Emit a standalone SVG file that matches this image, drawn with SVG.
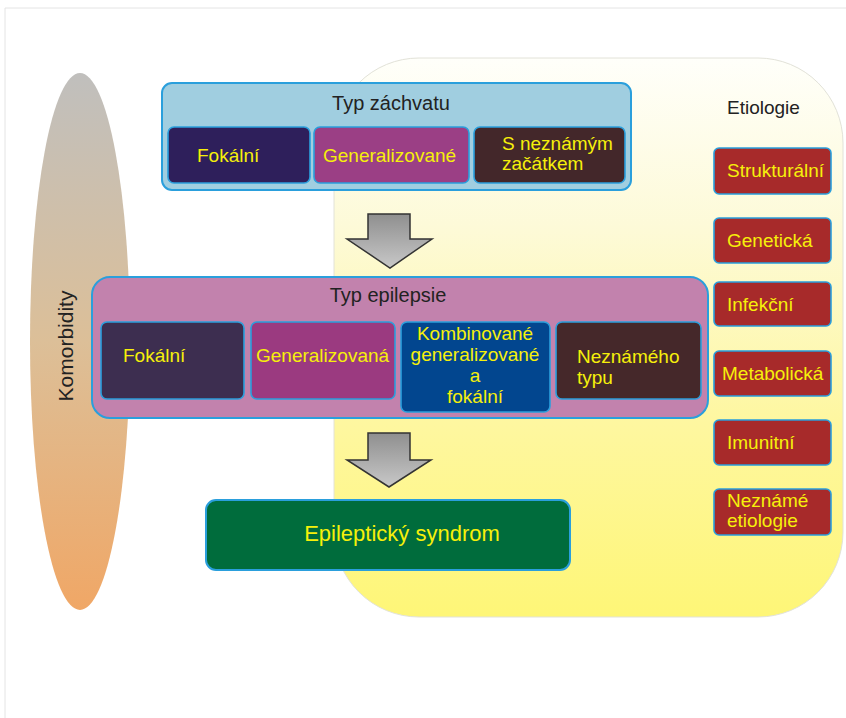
<svg xmlns="http://www.w3.org/2000/svg" width="846" height="718" viewBox="0 0 846 718">
<defs>
<linearGradient id="gYellow" x1="0" y1="0" x2="0" y2="1">
<stop offset="0" stop-color="#fffffa"/>
<stop offset="0.3" stop-color="#fdfad8"/>
<stop offset="0.65" stop-color="#fef7a0"/>
<stop offset="1" stop-color="#fef677"/>
</linearGradient>
<linearGradient id="gEll" x1="0" y1="0" x2="0" y2="1">
<stop offset="0" stop-color="#c0bfbd"/>
<stop offset="0.5" stop-color="#dcbf98"/>
<stop offset="1" stop-color="#f0a766"/>
</linearGradient>
<linearGradient id="gArrow" x1="0" y1="0" x2="0" y2="1">
<stop offset="0" stop-color="#8f8f8f"/>
<stop offset="1" stop-color="#c8c8c8"/>
</linearGradient>
<style>
.t{font-family:"Liberation Sans",Arial,sans-serif;}
.dark{fill:#222222;}
.yel{fill:#f6f00a;font-size:19px;}
.box{stroke:#2a9fdc;stroke-width:2;}
.ibox{stroke:#2a9fdc;stroke-width:1.6;}
.red{fill:#a72a2a;stroke:#2a9fdc;stroke-width:1.6;}
.arrow{fill:url(#gArrow);stroke:#333333;stroke-width:1.5;stroke-linejoin:miter;}
</style>
</defs>
<rect width="846" height="718" fill="#ffffff"/>
<path d="M5,718 V8 H846" fill="none" stroke="#e4e4e4" stroke-width="1"/>

<g id="etiology-area">
<rect x="334" y="58" width="509" height="559" rx="85" ry="85" fill="url(#gYellow)" stroke="#e2e2d8" stroke-width="1"/>
<text class="t dark" x="727" y="114" font-size="19">Etiologie</text>
</g>

<g id="komorbidity">
<ellipse cx="80" cy="341.5" rx="50" ry="268.5" fill="url(#gEll)"/>
<text class="t dark" x="0" y="0" font-size="21" text-anchor="middle" transform="translate(73,346) rotate(-90)">Komorbidity</text>
</g>

<g id="typ-zachvatu">
<rect class="box" x="162" y="83" width="469" height="107" rx="10" fill="#a0cee0"/>
<text class="t dark" x="391" y="110" font-size="20" text-anchor="middle">Typ záchvatu</text>
</g>
<g id="z-fokalni">
<rect class="ibox" x="168" y="127" width="142" height="56" rx="6" fill="#2e1f5b"/>
<text class="t yel" x="197" y="162">Fokální</text>
</g>
<g id="z-generalizovane">
<rect class="ibox" x="314" y="127" width="155" height="56" rx="6" fill="#9b3f85"/>
<text class="t yel" x="323" y="162">Generalizované</text>
</g>
<g id="z-neznamym">
<rect class="ibox" x="474" y="127" width="151" height="56" rx="6" fill="#43272a"/>
<text class="t yel" x="502" y="150">S neznámým</text>
<text class="t yel" x="502" y="170">začátkem</text>
</g>

<g id="typ-epilepsie">
<rect class="box" x="92" y="277" width="616" height="141" rx="18" fill="#c282ad"/>
<text class="t dark" x="388" y="302" font-size="20" text-anchor="middle">Typ epilepsie</text>
</g>
<g id="e-fokalni">
<rect class="ibox" x="101" y="322" width="143" height="77" rx="6" fill="#3d2e50"/>
<text class="t yel" x="123" y="362">Fokální</text>
</g>
<g id="e-generalizovana">
<rect class="ibox" x="251" y="322" width="144" height="77" rx="6" fill="#9b3a80"/>
<text class="t yel" x="256" y="362">Generalizovaná</text>
</g>
<g id="e-kombinovane">
<rect class="ibox" x="401" y="322" width="149" height="90" rx="6" fill="#02468f"/>
<text class="t yel" x="475" y="340" text-anchor="middle">Kombinované</text>
<text class="t yel" x="475" y="361" text-anchor="middle">generalizované</text>
<text class="t yel" x="475" y="382" text-anchor="middle">a</text>
<text class="t yel" x="475" y="403" text-anchor="middle">fokální</text>
</g>
<g id="e-neznameho">
<rect class="ibox" x="556" y="322" width="145" height="77" rx="6" fill="#45282a"/>
<text class="t yel" x="577" y="363">Neznámého</text>
<text class="t yel" x="577" y="384">typu</text>
</g>

<g id="syndrom">
<rect class="box" x="206" y="500" width="364" height="70" rx="10" fill="#006c3c"/>
<text class="t" x="402" y="541" font-size="22" fill="#f6f00a" text-anchor="middle">Epileptický syndrom</text>
</g>

<g id="et-strukturalni">
<rect class="red" x="714" y="148" width="117" height="46" rx="5"/>
<text class="t yel" x="727" y="177">Strukturální</text>
</g>
<g id="et-geneticka">
<rect class="red" x="714" y="218" width="117" height="45" rx="5"/>
<text class="t yel" x="727" y="247">Genetická</text>
</g>
<g id="et-infekcni">
<rect class="red" x="714" y="282" width="117" height="44" rx="5"/>
<text class="t yel" x="727" y="311">Infekční</text>
</g>
<g id="et-metabolicka">
<rect class="red" x="714" y="351" width="117" height="45" rx="5"/>
<text class="t yel" x="722" y="380">Metabolická</text>
</g>
<g id="et-imunitni">
<rect class="red" x="714" y="420" width="117" height="45" rx="5"/>
<text class="t yel" x="727" y="449">Imunitní</text>
</g>
<g id="et-nezname">
<rect class="red" x="714" y="489" width="117" height="46" rx="5"/>
<text class="t yel" x="727" y="507">Neznámé</text>
<text class="t yel" x="727" y="527">etiologie</text>
</g>

<g id="connectors">
<path class="arrow" d="M368,214 H410 V239 H432 L390,268 L347,239 H368 Z"/>
<path class="arrow" d="M368,433 H410 V460 H431 L389,487 L347,460 H368 Z"/>
</g>
</svg>
